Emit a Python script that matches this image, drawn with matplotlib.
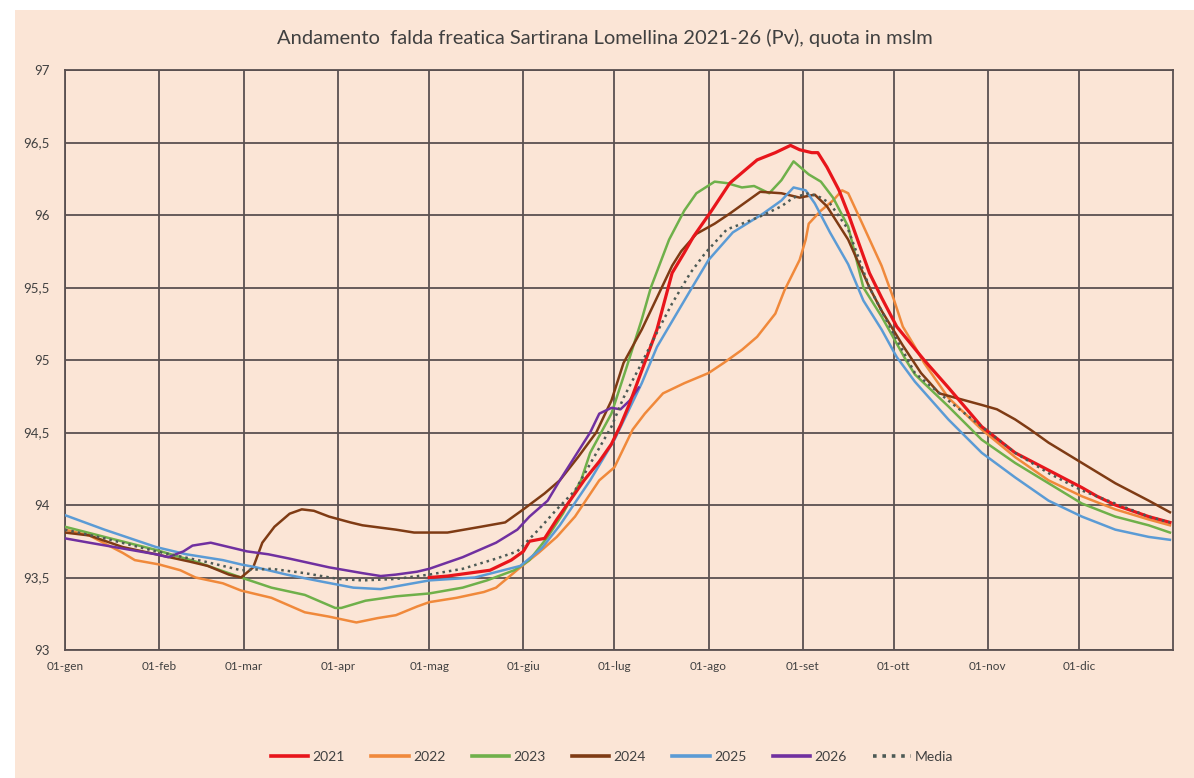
import matplotlib.pyplot as plt
from matplotlib.patches import Rectangle

# --- readings (day of year from 1 Jan, level in m s.l.m.) --- #
days_2021 = [120, 126, 133, 140, 147, 151, 153, 158, 162, 168, 171, 176, 180, 183, 186, 195, 200, 204, 207, 213,
             219, 228, 234, 239, 242, 246, 248, 251, 255, 258, 265, 269, 274, 283, 291, 302, 313, 324, 335, 340,
             346, 357, 364]
vals_2021 = [93.50, 93.51, 93.53, 93.55, 93.62, 93.68, 93.75, 93.77, 93.90, 94.08, 94.17, 94.30, 94.42, 94.55, 94.70,
             95.21, 95.60, 95.74, 95.85, 96.03, 96.22, 96.38, 96.43, 96.48, 96.45, 96.43, 96.43, 96.33, 96.17, 96.01,
             95.60, 95.43, 95.23, 95.00, 94.81, 94.54, 94.36, 94.24, 94.12, 94.06, 94.00, 93.92, 93.88]

days_2022 = [0, 8, 19, 23, 31, 38, 43, 52, 58, 68, 79, 87, 96, 103, 109, 116, 120, 129, 138, 142, 146, 150, 156,
             162, 168, 176, 181, 187, 191, 197, 204, 212, 217, 223, 228, 234, 237, 242, 244, 245, 249, 253, 256,
             258, 262, 269, 273, 276, 280, 283, 291, 302, 313, 324, 335, 346, 357, 364]
vals_2022 = [93.83, 93.79, 93.67, 93.62, 93.59, 93.55, 93.50, 93.46, 93.41, 93.36, 93.26, 93.23, 93.19, 93.22, 93.24,
             93.30, 93.33, 93.36, 93.40, 93.43, 93.50, 93.57, 93.67, 93.78, 93.92, 94.17, 94.26, 94.52, 94.63, 94.77,
             94.84, 94.91, 94.98, 95.07, 95.16, 95.32, 95.48, 95.69, 95.83, 95.94, 96.03, 96.10, 96.17, 96.15, 95.97,
             95.65, 95.42, 95.23, 95.09, 94.98, 94.74, 94.52, 94.33, 94.17, 94.06, 93.97, 93.90, 93.86]

days_2023 = [0, 13, 30, 43, 58, 68, 79, 89, 91, 99, 109, 120, 131, 139, 148, 153, 159, 164, 170, 173, 180, 185, 190,
             193, 199, 204, 208, 214, 218, 223, 227, 232, 236, 240, 245, 249, 253, 258, 263, 269, 277, 280, 291, 302,
             313, 324, 335, 346, 357, 364]
vals_2023 = [93.85, 93.78, 93.69, 93.61, 93.50, 93.43, 93.38, 93.29, 93.29, 93.34, 93.37, 93.39, 93.43, 93.48, 93.55,
             93.62, 93.78, 93.94, 94.17, 94.36, 94.63, 94.95, 95.28, 95.50, 95.83, 96.03, 96.15, 96.23, 96.22, 96.19,
             96.20, 96.15, 96.24, 96.37, 96.28, 96.23, 96.12, 95.92, 95.50, 95.30, 95.00, 94.90, 94.68, 94.45, 94.29,
             94.15, 94.01, 93.92, 93.86, 93.81]

days_2024 = [0, 8, 19, 30, 41, 47, 54, 58, 62, 65, 69, 74, 78, 82, 87, 94, 98, 109, 115, 126, 137, 145, 151, 158,
             163, 169, 175, 180, 184, 190, 195, 200, 203, 208, 214, 219, 225, 229, 236, 242, 247, 251, 258, 265, 269,
             276, 282, 288, 302, 307, 313, 318, 324, 335, 346, 357, 364]
vals_2024 = [93.81, 93.79, 93.71, 93.66, 93.61, 93.58, 93.52, 93.50, 93.57, 93.74, 93.85, 93.94, 93.97, 93.96, 93.92,
             93.88, 93.86, 93.83, 93.81, 93.81, 93.85, 93.88, 93.97, 94.08, 94.17, 94.33, 94.50, 94.72, 94.98, 95.21,
             95.43, 95.65, 95.75, 95.87, 95.94, 96.01, 96.10, 96.16, 96.15, 96.12, 96.14, 96.06, 95.83, 95.50, 95.34,
             95.10, 94.91, 94.77, 94.69, 94.66, 94.59, 94.52, 94.43, 94.29, 94.15, 94.03, 93.95]

days_2025 = [0, 13, 30, 40, 52, 58, 63, 73, 85, 95, 104, 120, 135, 150, 157, 163, 173, 181, 190, 195, 206, 212, 220,
             230, 236, 240, 244, 247, 252, 258, 263, 269, 274, 280, 291, 302, 313, 324, 335, 346, 357, 364]
vals_2025 = [93.93, 93.83, 93.71, 93.66, 93.62, 93.59, 93.57, 93.52, 93.47, 93.43, 93.42, 93.48, 93.50, 93.58, 93.70,
             93.86, 94.17, 94.45, 94.84, 95.09, 95.48, 95.69, 95.88, 96.01, 96.10, 96.19, 96.17, 96.08, 95.88, 95.66,
             95.41, 95.21, 95.02, 94.85, 94.59, 94.36, 94.19, 94.03, 93.92, 93.83, 93.78, 93.76]

days_2026 = [0, 8, 19, 30, 34, 39, 42, 48, 54, 60, 67, 74, 87, 98, 104, 109, 116, 120, 131, 142, 149, 153, 159, 163,
             173, 176, 180, 183, 186, 189]
vals_2026 = [93.77, 93.74, 93.70, 93.66, 93.64, 93.68, 93.72, 93.74, 93.71, 93.68, 93.66, 93.63, 93.57, 93.53, 93.51,
             93.52, 93.54, 93.56, 93.64, 93.74, 93.83, 93.92, 94.03, 94.17, 94.50, 94.63, 94.67, 94.66, 94.72, 94.81]

days_media = [0, 13, 30, 46, 58, 68, 79, 90, 98, 109, 120, 131, 142, 149, 156, 162, 168, 174, 180, 184, 190, 195,
              200, 206, 211, 218, 223, 229, 236, 240, 245, 249, 252, 258, 265, 274, 280, 291, 302, 313, 324, 335,
              346, 357, 364]
vals_media = [93.83, 93.77, 93.68, 93.61, 93.55, 93.56, 93.53, 93.49, 93.48, 93.49, 93.52, 93.56, 93.63, 93.68, 93.83,
              93.97, 94.10, 94.32, 94.54, 94.74, 94.98, 95.19, 95.39, 95.60, 95.74, 95.90, 95.94, 95.99, 96.06, 96.12,
              96.15, 96.12, 96.08, 95.90, 95.50, 95.14, 94.91, 94.72, 94.54, 94.36, 94.22, 94.10, 94.01, 93.92, 93.88]

month_days = [0, 31, 59, 90, 120, 151, 181, 212, 243, 273, 304, 334]
month_labels = ['01-gen', '01-feb', '01-mar', '01-apr', '01-mag', '01-giu',
                '01-lug', '01-ago', '01-set', '01-ott', '01-nov', '01-dic']
y_ticks = [93, 93.5, 94, 94.5, 95, 95.5, 96, 96.5, 97]
y_labels = ['93', '93,5', '94', '94,5', '95', '95,5', '96', '96,5', '97']

plt.rcParams['font.family'] = ['Lato', 'DejaVu Sans']

peach = '#fbe5d6'
grid_col = '#5a5050'

fig = plt.figure(figsize=(11.94, 7.78), dpi=100)
fig.patch.set_facecolor('white')
# peach chart area, leaving the thin white strip at left/top like the screenshot
fig.patches.append(Rectangle((15 / 1194, 0), 1 - 15 / 1194, 1 - 10 / 778,
                             transform=fig.transFigure, facecolor=peach, edgecolor='none', zorder=-5))

ax = fig.add_axes([65 / 1194, 1 - 650 / 778, (1173 - 65) / 1194, (650 - 70) / 778])
ax.set_facecolor(peach)

ax.plot(days_2021, vals_2021, color='#e8151b', lw=2.3, label='2021', zorder=4)
ax.plot(days_2022, vals_2022, color='#f0893b', lw=1.8, label='2022', zorder=3)
ax.plot(days_2023, vals_2023, color='#6fb04a', lw=1.8, label='2023', zorder=3)
ax.plot(days_2024, vals_2024, color='#7f3b14', lw=1.8, label='2024', zorder=3)
ax.plot(days_2025, vals_2025, color='#5b9bd5', lw=1.8, label='2025', zorder=3)
ax.plot(days_2026, vals_2026, color='#7030a0', lw=1.8, label='2026', zorder=3)
ax.plot(days_media, vals_media, color='#4d5a55', lw=1.8, ls=(0, (1, 1.6)), label='Media', zorder=5)

ax.set_xlim(0, 365)
ax.set_ylim(93, 97)
ax.set_xticks(month_days)
ax.set_xticklabels(month_labels, fontsize=8.5, color='#404040')
ax.set_yticks(y_ticks)
ax.set_yticklabels(y_labels, fontsize=9.5, color='#404040')
ax.tick_params(axis='x', length=0, pad=8)
ax.tick_params(axis='y', length=0, pad=11)
ax.grid(True, color=grid_col, lw=1.3)
ax.set_axisbelow(True)
for s in ax.spines.values():
    s.set_color(grid_col)
    s.set_linewidth(1.3)

fig.text(605 / 1194, 1 - 38 / 778,
         'Andamento  falda freatica Sartirana Lomellina 2021-26 (Pv), quota in mslm',
         ha='center', va='center', fontsize=14.5, color='#404040')

leg = fig.legend(loc='center', bbox_to_anchor=(612 / 1194, 1 - 757 / 778), ncol=7, frameon=False,
                 fontsize=10, handlelength=2.7, handletextpad=0.3, columnspacing=1.9)
for t in leg.get_texts():
    t.set_color('#404040')
for h in leg.get_lines():
    h.set_linewidth(2.6)

fig.savefig('out.png', dpi=100, facecolor=fig.get_facecolor())
